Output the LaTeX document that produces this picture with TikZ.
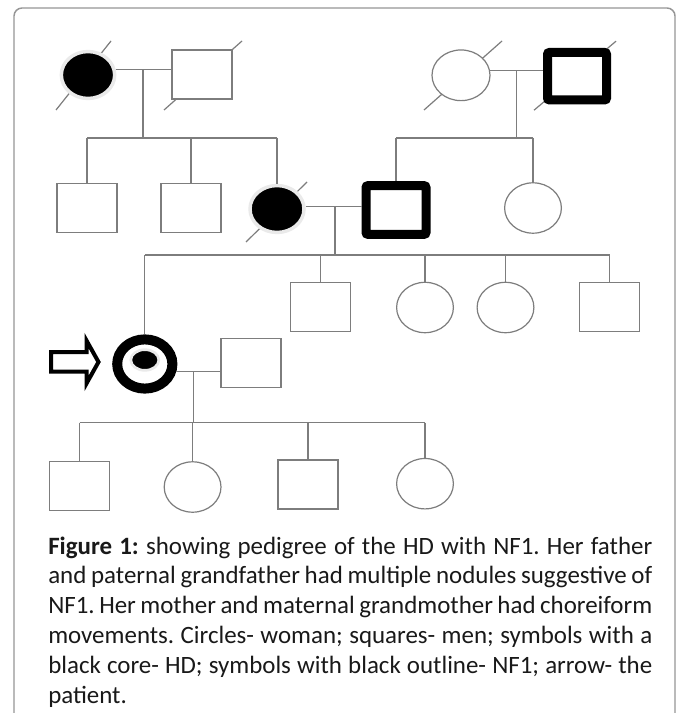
\documentclass[tikz,border=0pt]{standalone}
\usepackage{fontspec}
\setmainfont{Carlito}
\usetikzlibrary{shapes.geometric,backgrounds}
\definecolor{ln}{RGB}{125,125,125}
\definecolor{frm}{RGB}{150,150,150}
\definecolor{halo}{RGB}{234,234,234}
\begin{document}
\frenchspacing
\begin{tikzpicture}[x=0.75pt,y=-0.75pt,
  sq/.style={draw=ln,line width=0.9pt,fill=white,minimum width=45pt,minimum height=36.75pt,inner sep=0pt},
  nfsq/.style={draw=black,line width=6.75pt,fill=white,minimum width=44.5pt,minimum height=36pt,inner sep=0pt,rounded corners=1.5pt},
  fem/.style={ellipse,draw=ln,line width=0.9pt,fill=white,minimum width=42.6pt,minimum height=37.8pt,inner sep=0pt},
  hd/.style={ellipse,draw=halo,line width=2.6pt,fill=black,minimum width=40pt,minimum height=35.2pt,inner sep=0pt},
  con/.style={draw=ln,line width=0.9pt},
  dead/.style={draw=ln,line width=0.9pt},
  captxt/.style={anchor=base west,inner sep=0pt,font=\fontsize{18.7}{22}\selectfont,text=black!90}]
\useasboundingbox (0,0) rectangle (681,713);

% generation I
\node[hd] (gm1) at (88,75) {};
\node[sq] (gf1) at (202,74.5) {};
\node[fem,minimum width=43.5pt,minimum height=38pt] (gm2) at (461,75.3) {};
\node[nfsq,minimum width=44.25pt,minimum height=35.6pt] (gf2) at (577,76.2) {};
% generation II
\node[sq] (u1) at (87,208) {};
\node[sq] (u2) at (191,208) {};
\node[hd,minimum width=40.5pt] (mo) at (277,209) {};
\node[nfsq,minimum width=45pt,minimum height=36.5pt] (fa) at (396,210) {};
\node[fem] (au) at (533,208) {};
% generation III
\node[sq] (c1) at (320.5,306.7) {};
\node[fem] (c2) at (425,307.5) {};
\node[fem] (c3) at (505.5,307.5) {};
\node[sq] (c4) at (609.5,306.7) {};
\node[ellipse,draw=black,line width=7.5pt,fill=white,minimum width=41.4pt,minimum height=36.9pt,inner sep=0pt] (pt) at (144.8,364) {};
\node[ellipse,draw=halo,line width=2pt,fill=black,minimum width=21pt,minimum height=15.5pt,inner sep=0pt] (ptc) at (144.8,360) {};
\node[sq] (sp) at (251,363.3) {};
% generation IV
\node[sq] (g1) at (79.5,486.2) {};
\node[fem] (g2) at (192.6,487) {};
\node[sq] (g3) at (308,484.5) {};
\node[fem] (g4) at (425,483.7) {};

% background, frame and deceased slashes (behind symbols)
\begin{scope}[on background layer]
\fill[white] (0,0) rectangle (681,713);
\draw[frm,line width=1.1pt,rounded corners=6pt] (14,720) -- (14,8) -- (675,8) -- (675,720);
\draw[dead] ([shift={(-32,35)}]gm1.center) -- ([shift={(23,-34)}]gm1.center);
\draw[dead] ([shift={(-38,35.5)}]gf1.center) -- ([shift={(40,-33.5)}]gf1.center);
\draw[dead] ([shift={(-37,34.7)}]gm2.center) -- ([shift={(41,-34.3)}]gm2.center);
\draw[dead] ([shift={(-43,34)}]gf2.center) -- ([shift={(39,-35)}]gf2.center);
\draw[dead] ([shift={(-31,33)}]mo.center) -- ([shift={(30,-27)}]mo.center);
\end{scope}

% family I-left
\coordinate (d1) at (143,138);
\draw[con] (gm1.11) -- (gm1.11 -| gf1.west);
\draw[con] (gm1.11 -| d1) -- (d1);
\draw[con] (u1.north |- d1) -- (mo.north |- d1);
\draw[con] (u1.north |- d1) -- (u1.north);
\draw[con] (u2.north |- d1) -- (u2.north);
\draw[con] (mo.north |- d1) -- (mo.north);
% family I-right
\coordinate (d2) at (516.7,138);
\draw[con] (gm2.9) -- (gm2.9 -| gf2.west);
\draw[con] (gm2.9 -| d2) -- (d2);
\draw[con] (fa.north |- d2) -- (au.north |- d2);
\draw[con] (fa.north |- d2) -- (fa.north);
\draw[con] (au.north |- d2) -- (au.north);
% family II
\coordinate (d3) at (335,255);
\draw[con] (mo.5) -- (mo.5 -| fa.west);
\draw[con] (mo.5 -| d3) -- (d3);
\draw[con] (pt.north |- d3) -- (c4.north |- d3);
\draw[con] (pt.north |- d3) -- (pt.north);
\draw[con] (c1.north |- d3) -- (c1.north);
\draw[con] (c2.north |- d3) -- (c2.north);
\draw[con] (c3.north |- d3) -- (c3.north);
\draw[con] (c4.north |- d3) -- (c4.north);
% family III
\coordinate (d4) at (193.7,422.7);
\draw[con] (pt.-14) -- (pt.-14 -| sp.west);
\draw[con] (pt.-14 -| d4) -- (d4);
\draw[con] (g1.north |- d4) -- (g4.north |- d4);
\draw[con] (g1.north |- d4) -- (g1.north);
\draw[con] (g2.north |- d4) -- (g2.north);
\draw[con] (g3.north |- d4) -- (g3.north);
\draw[con] (g4.north |- d4) -- (g4.north);

% proband arrow
\draw[black,line width=3pt,miter limit=4,fill=white] (51,352) -- (86.5,352) -- (86.5,340.5) -- (98.5,362) -- (86.5,383.5) -- (86.5,371.5) -- (51,371.5) -- cycle;

% caption
\node[captxt] (cap1) at (48,554) {\makebox[453pt][s]{\textbf{Figure 1:} showing pedigree of the HD with NF1. Her father}};
\node[captxt] (cap2) at (48,583.8) {\makebox[453pt][s]{and paternal grandfather had multiple nodules suggestive of}};
\node[captxt] (cap3) at (48,613.6) {\makebox[453pt][s]{NF1. Her mother and maternal grandmother had choreiform}};
\node[captxt] (cap4) at (48,643.4) {\makebox[453pt][s]{movements. Circles- woman; squares- men; symbols with a}};
\node[captxt] (cap5) at (48,673.2) {\makebox[453pt][s]{black core- HD; symbols with black outline- NF1; arrow- the}};
\node[captxt] (cap6) at (48,703) {patient.};
\end{tikzpicture}
\end{document}
